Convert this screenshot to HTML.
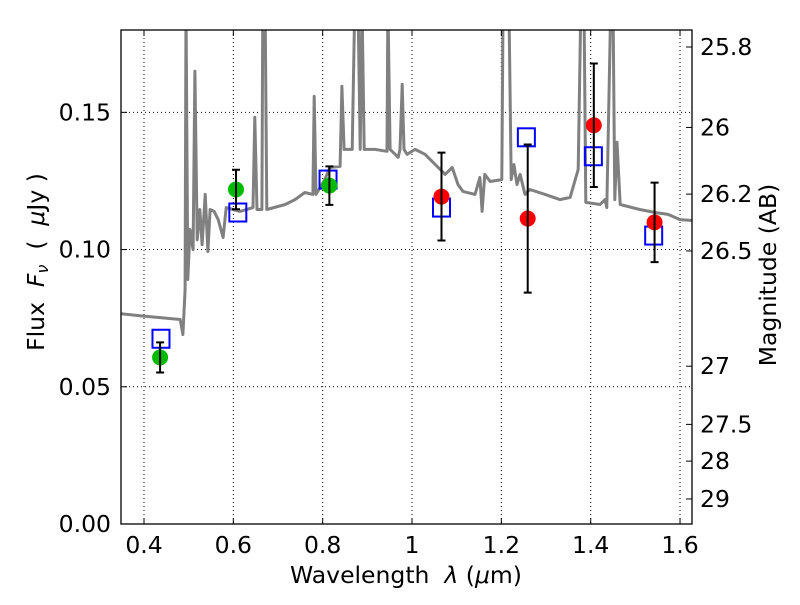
<!DOCTYPE html>
<html><head><meta charset="utf-8"><style>
body{margin:0;background:#fff}
svg text{font-family:"DejaVu Sans","Liberation Sans",sans-serif;font-size:23.5px;fill:#000;white-space:pre}
</style></head><body>
<svg id="chart" width="800" height="600" viewBox="0 0 800 600">
<defs><clipPath id="clip"><rect x="121" y="30" width="571" height="494"/></clipPath></defs>
<rect x="0" y="0" width="800" height="600" fill="#fff"/>
<g id="grid"></g>
<g id="spec" clip-path="url(#clip)"></g>
<g id="marks" clip-path="url(#clip)"></g>
<rect x="121" y="30" width="571" height="494" fill="none" stroke="#000" stroke-width="1.3"/>
<g id="axes"></g>
<text x="406" y="583" text-anchor="middle">Wavelength  <tspan font-style="italic">λ</tspan> (<tspan font-style="italic">μ</tspan>m)</text>
<text transform="translate(44,262) rotate(-90)" text-anchor="middle">Flux  <tspan font-style="italic">F<tspan font-size="16" dy="4">ν</tspan></tspan><tspan dy="-4">  (  </tspan><tspan font-style="italic">μ</tspan>Jy )</text>
<text transform="translate(776,275) rotate(-90)" text-anchor="middle">Magnitude (AB)</text>
</svg>
<script>
const xTicks=[0.4,0.6,0.8,1.0,1.2,1.4,1.6];
const xTickLabels=["0.4","0.6","0.8","1","1.2","1.4","1.6"];
const yTicks=[0,0.05,0.10,0.15];
const yTickLabels=["0.00","0.05","0.10","0.15"];
const magLabels=["25.8","26","26.2","26.5","27","27.5","28","29"];
const magFlux=[0.1738,0.1445,0.1202,0.0995,0.0575,0.0363,0.0229,0.00912];
const specW=[0.349,0.391,0.436,0.481,0.487,0.492,0.494,0.498,0.503,0.510,0.514,0.519,0.525,0.530,0.537,0.543,0.548,0.557,0.566,0.577,0.584,0.599,0.615,0.644,0.648,0.653,0.664,0.666,0.671,0.675,0.716,0.738,0.760,0.778,0.781,0.785,0.805,0.816,0.839,0.843,0.848,0.866,0.872,0.879,0.884,0.888,0.893,0.917,0.944,0.946,0.951,0.969,0.973,0.978,0.982,0.989,1.007,1.029,1.063,1.074,1.090,1.103,1.114,1.141,1.152,1.157,1.163,1.175,1.201,1.204,1.217,1.222,1.228,1.235,1.242,1.253,1.264,1.298,1.331,1.354,1.372,1.378,1.385,1.389,1.421,1.432,1.436,1.445,1.450,1.454,1.459,1.466,1.510,1.544,1.573,1.600,1.627];
const specF=[0.0766,0.0759,0.0752,0.0745,0.0690,0.0854,0.19,0.0891,0.1073,0.1000,0.1650,0.1036,0.1146,0.1018,0.1201,0.0993,0.1146,0.1139,0.1109,0.1044,0.1153,0.1146,0.1139,0.1153,0.1482,0.1146,0.1146,0.19,0.19,0.1146,0.1164,0.1182,0.1208,0.1201,0.1558,0.1201,0.1255,0.1299,0.1303,0.1595,0.1365,0.1365,0.19,0.19,0.1365,0.19,0.1365,0.1365,0.1358,0.19,0.1365,0.1336,0.1365,0.1602,0.1365,0.1347,0.1365,0.1347,0.1292,0.1274,0.1299,0.1237,0.1212,0.1201,0.1263,0.1139,0.1274,0.1248,0.1255,0.19,0.19,0.1255,0.1310,0.1237,0.1274,0.1201,0.1219,0.1201,0.1182,0.1190,0.1292,0.19,0.19,0.1172,0.1164,0.1182,0.1153,0.19,0.19,0.1182,0.1391,0.1164,0.1146,0.1135,0.1128,0.1109,0.1106];
const obsW=[0.436,0.606,0.815,1.066,1.259,1.407,1.543];
const obsF=[0.0607,0.1219,0.1233,0.1193,0.1113,0.1453,0.1099];
const obsErr=[0.0055,0.0072,0.007,0.016,0.027,0.0225,0.0145];
const obsColor=["#00bb00","#00bb00","#00bb00","#ff0000","#ff0000","#ff0000","#ff0000"];
const modW=[0.438,0.610,0.812,1.066,1.256,1.406,1.541];
const modF=[0.0675,0.1135,0.1255,0.1153,0.1409,0.134,0.1051];

const X0=121,X1=692,Y0=524,Y1=30,xmin=0.3485,xmax=1.6268,ymin=0,ymax=0.18;
const sx=w=>X0+(w-xmin)/(xmax-xmin)*(X1-X0);
const sy=f=>Y0-(f-ymin)/(ymax-ymin)*(Y0-Y1);
const NS="http://www.w3.org/2000/svg";
function mk(tag,parent,attrs){const e=document.createElementNS(NS,tag);for(const k in attrs)e.setAttribute(k,attrs[k]);parent.appendChild(e);return e;}
const grid=document.getElementById('grid'),axes=document.getElementById('axes');
xTicks.forEach((t,i)=>{const x=sx(t);
 let g=mk('line',grid,{x1:x,x2:x,y1:Y1,y2:Y0,stroke:'#000','stroke-width':1,'stroke-dasharray':'1,3'});
 
 let a=mk('line',axes,{x1:x,x2:x,y1:Y0,y2:Y0-6,stroke:'#000'});
 let b=mk('line',axes,{x1:x,x2:x,y1:Y1,y2:Y1+6,stroke:'#000'});
 let t2=mk('text',axes,{x:x,y:553,'text-anchor':'middle'});t2.textContent=xTickLabels[i];
 });
yTicks.forEach((t,i)=>{const y=sy(t);
 if(t>0){let g=mk('line',grid,{x1:X0,x2:X1,y1:y,y2:y,stroke:'#000','stroke-width':1,'stroke-dasharray':'1,3'});
 }
 let a=mk('line',axes,{x1:X0,x2:X0+6,y1:y,y2:y,stroke:'#000'});
 let t2=mk('text',axes,{x:111,y:y+8,'text-anchor':'end'});t2.textContent=yTickLabels[i];
 });
magLabels.forEach((m,i)=>{const y=sy(magFlux[i]);
 let a=mk('line',axes,{x1:X1,x2:X1-6,y1:y,y2:y,stroke:'#000'});
 let t2=mk('text',axes,{x:700,y:y+8});t2.textContent=m;
 });
const spec=document.getElementById('spec');
let d=specW.map((w,i)=>(i?'L':'M')+sx(w).toFixed(1)+','+sy(specF[i]).toFixed(1)).join('');
let p=mk('path',spec,{d:d,fill:'none',stroke:'#808080','stroke-width':3,'stroke-linejoin':'round'});

const marks=document.getElementById('marks');
modW.forEach((w,i)=>{const x=sx(w),y=sy(modF[i]);
 let r=mk('rect',marks,{x:x-8.5,y:y-9,width:17,height:18,fill:'none',stroke:'#0000ff','stroke-width':2});
 });
obsW.forEach((w,i)=>{const x=sx(w),y=sy(obsF[i]);
 let c=mk('circle',marks,{cx:x,cy:y,r:8,fill:obsColor[i]});
 
 const yt=sy(obsF[i]+obsErr[i]),yb=sy(obsF[i]-obsErr[i]);
 let e=mk('path',marks,{d:`M${x},${yt}L${x},${yb}M${x-4},${yt}L${x+4},${yt}M${x-4},${yb}L${x+4},${yb}`,stroke:'#000','stroke-width':2,fill:'none'});
 });
</script>
</body></html>
